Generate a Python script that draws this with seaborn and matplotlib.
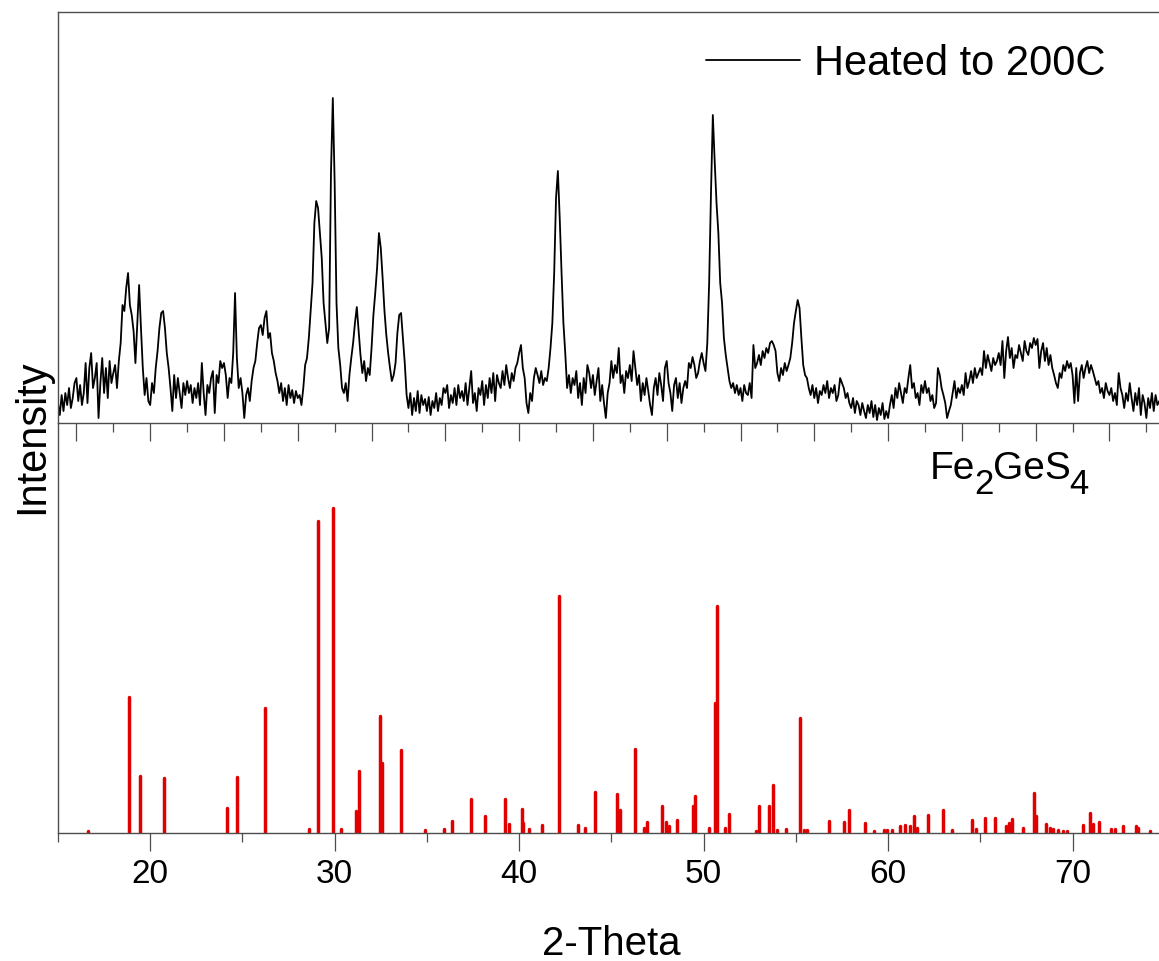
import matplotlib

matplotlib.use("Agg")
import matplotlib.pyplot as plt
import numpy as np
import pandas as pd
import seaborn as sns
from matplotlib.ticker import MultipleLocator

two_theta = np.round(np.arange(150, 748) / 10, 1)
heated_counts = [
    20, 8, 28, 12, 30, 18, 35, 15, 25, 40,
    45, 22, 38, 18, 30, 60, 20, 55, 70, 35,
    45, 60, 5, 40, 65, 30, 55, 25, 62, 40,
    50, 58, 35, 62, 80, 118, 112, 135, 150, 118,
    108, 92, 60, 100, 138, 95, 55, 28, 45, 22,
    18, 40, 30, 55, 72, 95, 110, 112, 95, 70,
    55, 35, 12, 48, 25, 45, 30, 15, 40, 28,
    42, 30, 38, 20, 35, 25, 40, 18, 60, 30,
    8, 38, 30, 45, 52, 10, 48, 40, 62, 55,
    60, 48, 25, 45, 40, 70, 130, 65, 35, 45,
    30, 5, 28, 35, 22, 42, 55, 62, 80, 95,
    98, 88, 105, 112, 85, 90, 70, 62, 50, 42,
    30, 40, 22, 35, 18, 38, 25, 33, 20, 32,
    25, 28, 18, 35, 58, 65, 85, 112, 140, 200,
    222, 215, 190, 165, 120, 100, 80, 95, 250, 325,
    240, 120, 75, 58, 35, 30, 40, 22, 48, 65,
    80, 100, 116, 92, 68, 50, 62, 42, 55, 48,
    75, 108, 130, 155, 190, 175, 145, 112, 88, 70,
    55, 42, 48, 60, 90, 108, 110, 85, 60, 28,
    15, 30, 8, 25, 12, 32, 10, 28, 18, 24,
    12, 26, 8, 22, 15, 30, 12, 25, 18, 35,
    30, 38, 15, 28, 20, 35, 18, 38, 25, 32,
    22, 40, 18, 35, 52, 20, 30, 12, 35, 28,
    42, 18, 38, 25, 45, 30, 50, 22, 48, 40,
    35, 52, 38, 58, 45, 35, 50, 42, 55, 60,
    70, 78, 55, 45, 20, 10, 30, 22, 45, 55,
    48, 40, 52, 38, 45, 42, 55, 75, 100, 150,
    225, 252, 205, 150, 100, 70, 35, 48, 30, 45,
    38, 52, 25, 40, 18, 45, 30, 58, 50, 35,
    48, 28, 42, 55, 22, 38, 20, 5, 30, 40,
    62, 45, 58, 50, 75, 40, 48, 30, 52, 45,
    58, 42, 72, 55, 38, 48, 22, 40, 28, 45,
    32, 18, 8, 35, 45, 28, 50, 38, 22, 55,
    62, 40, 30, 12, 38, 45, 25, 40, 20, 35,
    42, 35, 60, 55, 66, 58, 45, 50, 62, 70,
    60, 52, 80, 140, 230, 308, 262, 220, 190, 140,
    120, 85, 68, 55, 42, 35, 40, 30, 38, 28,
    35, 22, 38, 30, 28, 40, 25, 78, 55, 60,
    68, 58, 72, 65, 75, 70, 80, 82, 78, 72,
    50, 42, 55, 48, 60, 52, 58, 65, 80, 100,
    112, 123, 115, 85, 58, 48, 45, 35, 28, 38,
    25, 35, 20, 32, 28, 38, 30, 42, 25, 35,
    30, 38, 22, 28, 45, 40, 35, 25, 30, 20,
    15, 25, 10, 22, 18, 8, 20, 12, 5, 18,
    10, 22, 6, 18, 3, 15, 8, 20, 4, 12,
    5, 18, 28, 15, 35, 25, 40, 30, 20, 35,
    30, 45, 58, 35, 40, 25, 30, 18, 38, 30,
    42, 30, 35, 22, 28, 15, 20, 55, 48, 35,
    28, 20, 5, 12, 18, 30, 42, 25, 35, 30,
    38, 28, 50, 35, 42, 52, 40, 55, 45, 50,
    55, 48, 72, 55, 68, 60, 52, 65, 58, 62,
    70, 58, 82, 45, 72, 86, 65, 75, 55, 68,
    65, 78, 70, 62, 82, 72, 68, 80, 75, 85,
    78, 84, 55, 72, 80, 62, 75, 58, 68, 55,
    48, 40, 35, 50, 45, 58, 52, 62, 55, 60,
    48, 20, 55, 22, 50, 58, 45, 55, 62, 50,
    58, 52, 45, 38, 42, 30, 35, 25, 40, 32,
    28, 35, 22, 30, 18, 50, 35, 28, 15, 30,
    22, 40, 25, 12, 30, 18, 35, 8, 28, 20,
    5, 25, 15, 30, 12, 28, 18, 22,
]

# Fe2GeS4 reference sticks (2-theta, relative intensity %)
ref_positions = [
    16.64, 18.85, 19.46, 20.75, 24.18, 24.72, 26.24, 28.62, 29.07, 29.92,
    30.32, 31.15, 31.30, 32.45, 32.54, 33.61, 34.87, 35.92, 36.35, 37.38,
    38.16, 39.24, 39.46, 40.15, 40.22, 40.53, 41.25, 42.17, 43.17, 43.56,
    44.12, 45.30, 45.46, 46.26, 46.76, 46.92, 47.77, 47.95, 48.12, 48.55,
    49.43, 49.51, 50.27, 50.61, 50.72, 51.15, 51.39, 52.83, 53.01, 53.56,
    53.77, 53.99, 54.48, 55.20, 55.42, 55.60, 56.79, 57.59, 57.89, 58.74,
    59.24, 59.79, 59.92, 60.19, 60.64, 60.91, 61.18, 61.41, 61.58, 62.19,
    62.97, 63.47, 64.56, 64.79, 65.26, 65.82, 66.38, 66.56, 66.74, 67.32,
    67.92, 68.01, 68.55, 68.77, 68.95, 69.22, 69.49, 69.70, 70.54, 70.94,
    71.12, 71.42, 72.11, 72.29, 72.71, 73.43, 73.56, 74.19,
]
ref_intensity = [
    0.6, 42, 17.5, 17, 7.7, 17.2, 38.5, 1.2, 96, 100,
    1.2, 6.8, 19, 36, 21.5, 25.5, 0.9, 1.2, 3.7, 10.5,
    5.2, 10.5, 2.8, 7.4, 3, 1.2, 2.5, 73, 2.5, 1.5,
    12.6, 12, 7, 26, 1.5, 3.4, 8.3, 3.4, 2.2, 4,
    8.3, 11.4, 1.5, 40, 70, 1.5, 5.8, 0.6, 8.3, 8.3,
    14.8, 0.9, 1.2, 35.4, 0.9, 0.9, 3.7, 3.4, 7, 3,
    0.6, 0.9, 0.9, 0.9, 2.2, 2.5, 2.2, 5.2, 1.5, 5.5,
    7, 0.9, 4, 1.2, 4.6, 4.6, 2.2, 3, 4.3, 1.5,
    12.3, 5.2, 2.8, 1.5, 1.2, 0.9, 0.6, 0.6, 2.5, 6.2,
    2.8, 3.4, 1.2, 1.2, 2.2, 2.2, 1.5, 0.6,
]

sample_label = "Heated to 200C"
# formula pieces: (text, is_subscript)
phase_parts = [("Fe", False), ("2", True), ("GeS", False), ("4", True)]

sns.set_theme(style="white")
plt.rcParams["font.family"] = ["Liberation Sans", "DejaVu Sans"]
plt.rcParams["text.color"] = "black"
plt.rcParams["axes.labelcolor"] = "black"
plt.rcParams["xtick.color"] = "black"

spine_color = "#4d4d4d"

fig = plt.figure(figsize=(11.59, 9.61), dpi=100)
ax_top = fig.add_axes([0.05, 0.5598, 0.955, 0.4277])
ax_bot = fig.add_axes([0.05, 0.1332, 0.955, 0.4266])
ax_bot.patch.set_alpha(0)

df = pd.DataFrame({"two_theta": two_theta, "counts": heated_counts})
sns.lineplot(data=df, x="two_theta", y="counts", ax=ax_top, color="black",
             linewidth=1.3, estimator=None, sort=False, label=sample_label)

ax_top.set_xlim(15, 75)
ax_top.set_ylim(0, 411)
ax_top.set_xlabel("")
ax_top.set_ylabel("")
ax_top.set_yticks([])
ax_top.xaxis.set_major_locator(MultipleLocator(4))
ax_top.xaxis.set_minor_locator(MultipleLocator(2))
ax_top.tick_params(axis="x", which="major", direction="out", length=13,
                   width=0.9, color=spine_color, labelbottom=False, bottom=True)
ax_top.tick_params(axis="x", which="minor", direction="out", length=6.5,
                   width=0.9, color=spine_color, bottom=True)
for side in ["left", "top", "bottom"]:
    ax_top.spines[side].set_color(spine_color)
    ax_top.spines[side].set_linewidth(1.0)
ax_top.spines["right"].set_visible(False)

ax_top.legend(loc="center left", bbox_to_anchor=(706 / 1159, 1 - 64 / 961),
              bbox_transform=fig.transFigure, frameon=False, fontsize=30,
              handlelength=2.25, handletextpad=0.34, borderpad=0,
              borderaxespad=0)

# stick pattern
ax_bot.vlines(ref_positions, 0, ref_intensity, color="#e00000", linewidth=2.5,
              capstyle="round")
ax_bot.set_xlim(15, 75)
ax_bot.set_ylim(0, 126.2)
ax_bot.set_yticks([])
ax_bot.xaxis.set_major_locator(MultipleLocator(10))
ax_bot.xaxis.set_minor_locator(MultipleLocator(5))
ax_bot.tick_params(axis="x", which="major", direction="out", length=13,
                   width=0.9, color=spine_color, labelsize=24, pad=6,
                   bottom=True)
ax_bot.tick_params(axis="x", which="minor", direction="out", length=6.5,
                   width=0.9, color=spine_color, bottom=True)
for side in ["left", "bottom"]:
    ax_bot.spines[side].set_color(spine_color)
    ax_bot.spines[side].set_linewidth(1.0)
ax_bot.spines["top"].set_visible(False)
ax_bot.spines["right"].set_visible(False)

# phase name with large, dropped subscripts
renderer = fig.canvas.get_renderer()
x_px = 930
for part, is_sub in phase_parts:
    base_y = 494 if is_sub else 479
    size = 25 if is_sub else 28
    t = fig.text(x_px / 1159, 1 - base_y / 961, part, fontsize=size,
                 ha="left", va="baseline")
    x_px += t.get_window_extent(renderer).width - 1

fig.text(611 / 1159, 1 - 955 / 961, "2-Theta", fontsize=29,
         ha="center", va="baseline")
fig.text(12 / 1159, 1 - 437 / 961, "Intensity", fontsize=30, rotation=90,
         ha="left", va="center")

plt.savefig("out.png", dpi=100)
plt.close()
